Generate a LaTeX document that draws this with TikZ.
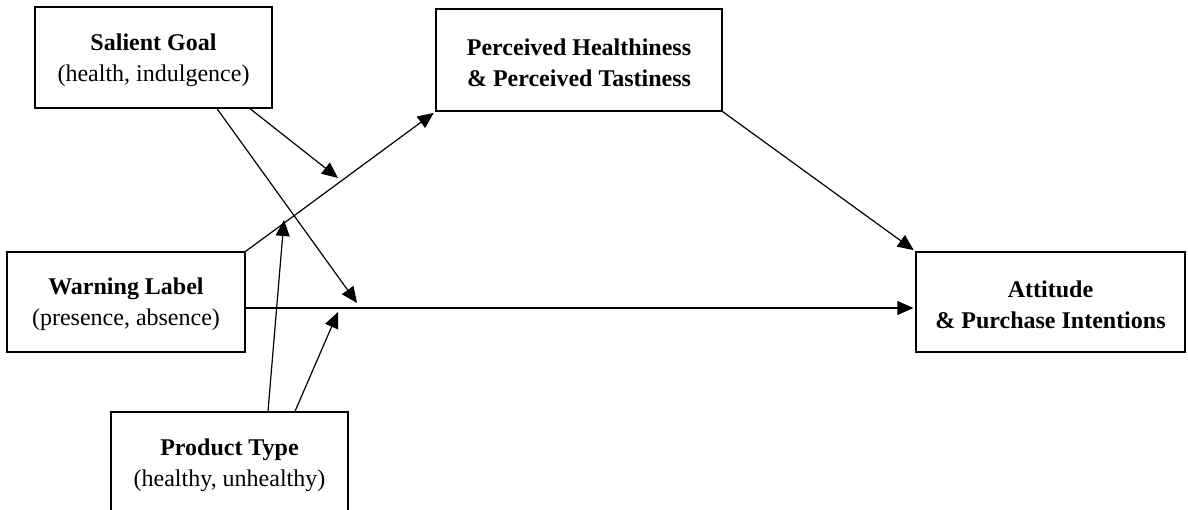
\documentclass[tikz,border=0pt]{standalone}
\usepackage{fontspec}
\setmainfont{Liberation Serif}
\usetikzlibrary{arrows.meta}
\begin{document}
\begin{tikzpicture}[x=1pt,y=-1pt,
  box/.style={draw, line width=1.3pt, align=center, inner sep=0pt,
    font=\fontsize{24}{31}\selectfont},
  arr/.style={line width=1.2pt, -{Triangle[length=16pt,width=14pt]}},
  tobox/.style={shorten >=2pt}]
\useasboundingbox (0,0) rectangle (1188,510);
\clip (0,0) rectangle (1188,510);
\node[box, minimum width=237pt, minimum height=101pt] (sg) at (153.5,57.5)
  {\rule{0pt}{22pt}\textbf{Salient Goal}\\(health, indulgence)};
\node[box, minimum width=286pt, minimum height=102pt] (ph) at (579,60)
  {\rule{0pt}{22pt}\textbf{Perceived Healthiness}\\\textbf{\& Perceived Tastiness}};
\node[box, minimum width=238pt, minimum height=100pt] (wl) at (126,302)
  {\rule{0pt}{22pt}\textbf{Warning Label}\\(presence, absence)};
\node[box, minimum width=269pt, minimum height=100pt] (ap) at (1050.5,302)
  {\rule{0pt}{22pt}\textbf{Attitude}\\\textbf{\& Purchase Intentions}};
\node[box, minimum width=237pt, minimum height=101pt] (pt) at (229.5,462.5)
  {\rule{0pt}{22pt}\textbf{Product Type}\\(healthy, unhealthy)};
\coordinate (m1) at (338,178);
\coordinate (m2) at (357,303);
\coordinate (m3) at (284,220);
\coordinate (m4) at (338,312);
\draw[arr, tobox] (wl.north east) -- (ph.south west);
\draw[arr, tobox] ([yshift=-6pt]wl.east) -- ([yshift=-6pt]ap.west);
\draw[arr, tobox] (ph.south east) -- (ap.north west);
\draw[arr] ([xshift=96.5pt]sg.south) -- (m1);
\draw[arr] ([xshift=63.5pt]sg.south) -- (m2);
\draw[arr] ([xshift=38.5pt]pt.north) -- (m3);
\draw[arr] ([xshift=65.5pt]pt.north) -- (m4);
\end{tikzpicture}
\end{document}
